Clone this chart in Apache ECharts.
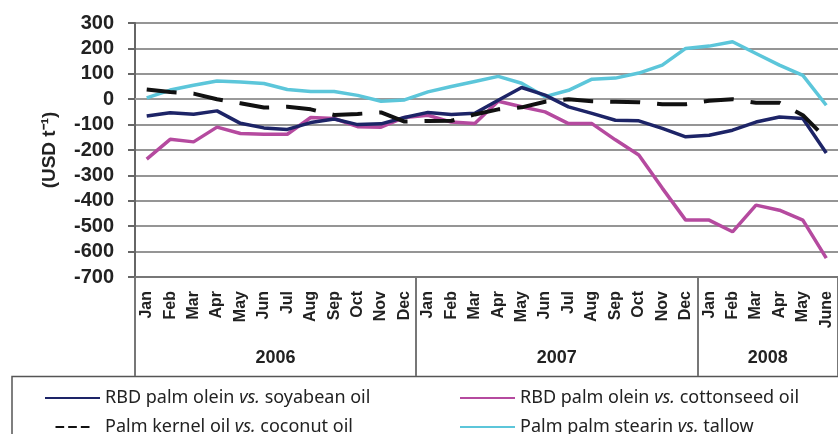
<!DOCTYPE html>
<html>
<head>
<meta charset="utf-8">
<script src="https://cdn.jsdelivr.net/npm/echarts@6/dist/echarts.min.js"></script>
<style>
  html, body { margin: 0; padding: 0; background: #fff; }
  #chart { width: 838px; height: 434px; }
</style>
</head>
<body>
<div id="chart"></div>
<script>
var months = ["Jan", "Feb", "Mar", "Apr", "May", "Jun", "Jul", "Aug", "Sep", "Oct", "Nov", "Dec",
  "Jan", "Feb", "Mar", "Apr", "May", "Jun", "Jul", "Aug", "Sep", "Oct", "Nov", "Dec",
  "Jan", "Feb", "Mar", "Apr", "May", "June"]
var years = ["2006", "2007", "2008"]
var yearStart = [0, 12, 24, 30] // boundaries in months
var yTicks = { min: -700, max: 300, step: 100 }

var soyabean = [-66, -53, -59, -46, -95, -113, -119, -92, -78, -100, -97, -72,
  -52, -60, -55, -4, 46, 16, -30, -56, -83, -85, -115, -148,
  -142, -122, -90, -70, -76, -212]
var cottonseed = [-236, -158, -168, -110, -135, -138, -138, -72, -76, -108, -110, -72,
  -63, -90, -96, -8, -30, -50, -96, -96, -160, -220, -350, -476,
  -476, -522, -417, -437, -476, -626]
var coconut = [38, 28, 22, 0, -16, -33, -30, -40, -62, -58, -52, -88,
  -86, -85, -60, -40, -32, -10, 0, -8, -10, -12, -20, -20,
  -6, 0, -14, -14, -63, -155]
var tallow = [5, 36, 55, 72, 68, 62, 38, 30, 30, 15, -8, -3,
  29, 50, 70, 90, 63, 10, 35, 79, 83, 103, 134, 200,
  209, 226, 180, 134, 94, -24]

var names = ["RBD palm olein vs. soyabean oil", "RBD palm olein vs. cottonseed oil",
  "Palm kernel oil vs. coconut oil", "Palm palm stearin vs. tallow"]

// year axis: 31 points on the month boundaries
var yearPoints = []
var yearLabelAt = {}
for (var i = 0; i <= 30; i++) yearPoints.push("")
for (var k = 0; k < years.length; k++) {
  var mid = (yearStart[k] + yearStart[k + 1]) / 2
  yearPoints[mid] = years[k]
  yearLabelAt[mid] = true
}

var chart = echarts.init(document.getElementById("chart"))

var legendFont = "'Noto Sans', sans-serif"
var legendText = {
  color: "#222",
  fontFamily: legendFont,
  fontSize: 18,
  lineHeight: 22,
  rich: {
    n: { fontFamily: legendFont, fontSize: 18, lineHeight: 22, color: "#222" },
    i: { fontFamily: legendFont, fontSize: 18, lineHeight: 22, color: "#222", fontStyle: "italic" }
  }
}
function legendFormat(name) {
  var parts = name.split("vs.")
  return "{n|" + parts[0] + "}{i|vs.}{n|" + parts[1] + "}"
}
var solidIcon = "path://M0,0h55v2h-55z"
var dashIcon = "path://M0,0h13v3h-13z M19,0h13v3h-13z M38,0h13v3h-13z"

var option = {
  animation: false,
  grid: { left: 135, right: 0, top: 23, bottom: 157 },
  legend: [
    {
      left: 40, top: 382, height: 120, orient: "vertical", itemGap: 7,
      itemWidth: 55, itemHeight: 2,
      textStyle: legendText, formatter: legendFormat,
      data: [
        { name: names[0], icon: solidIcon },
        { name: names[2], icon: dashIcon, itemHeight: 3 }
      ]
    },
    {
      left: 455, top: 382, height: 120, orient: "vertical", itemGap: 7,
      itemWidth: 55, itemHeight: 2,
      textStyle: legendText, formatter: legendFormat,
      data: [
        { name: names[1], icon: solidIcon },
        { name: names[3], icon: solidIcon }
      ]
    }
  ],
  graphic: [
    {
      type: "polyline",
      shape: { points: [[12, 440], [12, 376.5], [840, 376.5]] },
      style: { stroke: "#555", lineWidth: 1.5, fill: null }
    }
  ],
  xAxis: [
    {
      type: "category",
      data: months,
      position: "bottom",
      axisLine: { onZero: false, lineStyle: { color: "#777", width: 2 } },
      axisTick: { interval: 0, length: 66, lineStyle: { color: "#777", width: 2 } },
      axisLabel: {
        interval: 0, rotate: 90, margin: 14,
        color: "#222", fontWeight: "bold", fontSize: 16,
        fontFamily: "'Liberation Sans', Arial, sans-serif"
      }
    },
    {
      type: "category",
      data: yearPoints,
      boundaryGap: false,
      position: "bottom",
      axisLine: { show: false, onZero: false },
      axisTick: {
        length: 99,
        interval: function (idx) { return yearStart.indexOf(idx) >= 0 },
        lineStyle: { color: "#777", width: 2 }
      },
      axisLabel: {
        margin: 72,
        interval: function (idx) { return !!yearLabelAt[idx] },
        color: "#222", fontWeight: "bold", fontSize: 18,
        fontFamily: "'Liberation Sans', Arial, sans-serif"
      }
    },
    {
      type: "category",
      data: months,
      position: "bottom",
      axisLine: { onZero: true, lineStyle: { color: "#9a9a9a", width: 2 } },
      axisTick: { interval: 0, length: 5, lineStyle: { color: "#666", width: 1.5 } },
      axisLabel: { show: false }
    }
  ],
  yAxis: {
    type: "value",
    min: yTicks.min, max: yTicks.max, interval: yTicks.step,
    name: "(USD t\u207B\u00B9)",
    nameLocation: "middle",
    nameGap: 76,
    nameTextStyle: {
      color: "#222", fontWeight: "bold", fontSize: 19,
      fontFamily: "'Liberation Sans', Arial, sans-serif"
    },
    axisLine: { show: true, lineStyle: { color: "#666", width: 2 } },
    axisTick: { show: true, length: 7, lineStyle: { color: "#666", width: 2 } },
    axisLabel: {
      margin: 21, color: "#222", fontWeight: "bold", fontSize: 20,
      fontFamily: "'Liberation Sans', Arial, sans-serif"
    },
    splitLine: { lineStyle: { color: "#959595", width: 2 } }
  },
  series: [
    {
      name: names[0], type: "line", data: soyabean, symbol: "none",
      lineStyle: { color: "#1d2467", width: 3.5 }, itemStyle: { color: "#1d2467" }, z: 3
    },
    {
      name: names[1], type: "line", data: cottonseed, symbol: "none",
      lineStyle: { color: "#b54a9f", width: 3.5 }, itemStyle: { color: "#b54a9f" }, z: 2
    },
    {
      name: names[2], type: "line", data: coconut, symbol: "none",
      lineStyle: { color: "#111", width: 4, type: [30, 17] }, itemStyle: { color: "#111" }, z: 4
    },
    {
      name: names[3], type: "line", data: tallow, symbol: "none",
      lineStyle: { color: "#5cc6da", width: 3.5 }, itemStyle: { color: "#5cc6da" }, z: 1
    }
  ]
}

chart.setOption(option)
</script>
</body>
</html>
